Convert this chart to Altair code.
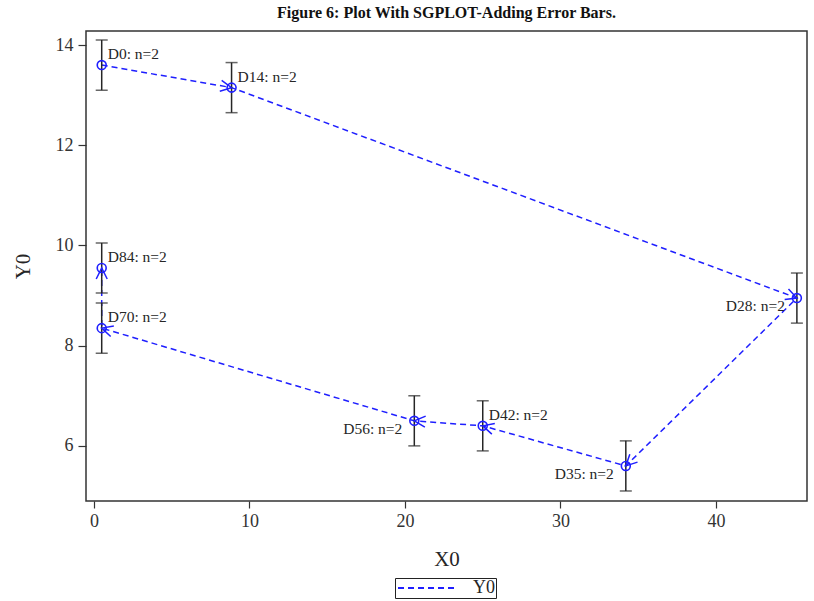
import math

import altair as alt
import pandas as pd

# Mean response per visit with +/- error limits, joined in visit order
labels = ["D0", "D14", "D28", "D35", "D42", "D56", "D70", "D84"]
x0 = [0.5, 8.85, 45.2, 34.2, 25.0, 20.6, 0.5, 0.5]
y0 = [13.6, 13.15, 8.95, 5.6, 6.4, 6.5, 8.35, 9.55]
y_lower = [13.1, 12.65, 8.45, 5.1, 5.9, 6.0, 7.85, 9.05]
y_upper = [14.1, 13.65, 9.45, 6.1, 6.9, 7.0, 8.85, 10.05]
n_obs = [2, 2, 2, 2, 2, 2, 2, 2]
left_labels = ["D28", "D35", "D56"]

x_ticks = [0, 10, 20, 30, 40]
y_ticks = [6, 8, 10, 12, 14]

W, H = 721, 470
X_DOM = [-0.51, 45.85]
Y_DOM = [4.9, 14.28]
SERIF = "Liberation Serif"
BLUE = "#1f1fff"
INK = "#262626"

# direction of each segment on screen, used to rotate its arrowhead
sx = W / (X_DOM[1] - X_DOM[0])
sy = H / (Y_DOM[1] - Y_DOM[0])
angles = [0.0]
for i in range(1, len(x0)):
    dx = (x0[i] - x0[i - 1]) * sx
    dy = -(y0[i] - y0[i - 1]) * sy
    angles.append(math.degrees(math.atan2(dy, dx)) % 360)

df = pd.DataFrame({
    "seq": list(range(len(labels))),
    "visit": labels,
    "x": x0,
    "y": y0,
    "lo": y_lower,
    "hi": y_upper,
    "txt": [f"{v}: n={n}" for v, n in zip(labels, n_obs)],
    "side": ["left" if v in left_labels else "right" for v in labels],
    "angle": angles,
    "series": ["Y0"] * len(labels),
})

xs = alt.Scale(domain=X_DOM, nice=False, zero=False)
ys = alt.Scale(domain=Y_DOM, nice=False, zero=False)
X = alt.X("x:Q", scale=xs, title="X0",
          axis=alt.Axis(values=x_ticks, tickSize=7, labelPadding=4, titlePadding=18))
Y_AXIS = alt.Axis(values=y_ticks, tickSize=8, labelPadding=5, titlePadding=22)


def yenc(field):
    return alt.Y(f"{field}:Q", scale=ys, title="Y0", axis=Y_AXIS)


base = alt.Chart(df)

line = base.mark_line(strokeDash=[6, 4], strokeWidth=1.5).encode(
    x=X,
    y=yenc("y"),
    order=alt.Order("seq:Q"),
    color=alt.Color(
        "series:N",
        scale=alt.Scale(range=[BLUE]),
        legend=alt.Legend(
            title=None, orient="none", legendX=309, legendY=547,
            strokeColor="#222", padding=1,
            symbolType="M-3.75,0L3.75,0", symbolSize=256, symbolOffset=23,
            symbolStrokeWidth=2, symbolDash=[6, 4],
            symbolStrokeColor="#6a6aff", symbolFillColor="transparent",
            labelOffset=36, labelFont=SERIF, labelFontSize=18, labelColor=INK,
        ),
    ),
)

bars = base.mark_rule(color=INK, strokeWidth=1.5).encode(
    x=X, y=yenc("lo"), y2="hi:Q"
)
cap_lo = base.mark_tick(orient="horizontal", size=12, thickness=1.5, color=INK).encode(
    x=X, y=yenc("lo")
)
cap_hi = base.mark_tick(orient="horizontal", size=12, thickness=1.5, color=INK).encode(
    x=X, y=yenc("hi")
)

circles = base.mark_point(shape="circle", filled=False, size=80, strokeWidth=1.6,
                          color=BLUE, opacity=1).encode(x=X, y=yenc("y"))

arrows = base.transform_filter("datum.seq > 0").mark_point(
    shape="M-1.1,-0.55L0,0L-1.1,0.55", filled=False, size=400,
    strokeWidth=1.5, color=BLUE, opacity=1,
).encode(x=X, y=yenc("y"), angle=alt.Angle("angle:Q", scale=None))

text_right = base.transform_filter("datum.side == 'right'").mark_text(
    align="left", dx=6, dy=-11, font=SERIF, fontSize=15.5, color=INK
).encode(x=X, y=yenc("y"), text="txt:N")

text_left = base.transform_filter("datum.side == 'left'").mark_text(
    align="right", dx=-12, dy=8, font=SERIF, fontSize=15.5, color=INK
).encode(x=X, y=yenc("y"), text="txt:N")

chart = (
    alt.layer(line, bars, cap_lo, cap_hi, circles, arrows, text_right, text_left)
    .properties(
        width=W,
        height=H,
        title=alt.Title("Figure 6: Plot With SGPLOT-Adding Error Bars.",
                        font=SERIF, fontSize=16, fontWeight="bold",
                        anchor="middle", offset=10, color="#111"),
        autosize=alt.AutoSizeParams(type="none"),
        padding={"left": 86, "top": 31, "right": 7, "bottom": 100},
    )
    .configure_view(stroke="#333", strokeWidth=1.5)
    .configure_axis(
        grid=False, domain=False, labelFont=SERIF, titleFont=SERIF,
        labelFontSize=18, titleFontSize=21, titleFontWeight="normal",
        tickColor="#333", tickWidth=1.2, labelColor="#333", titleColor=INK,
    )
)

chart.save("out.html", embed_options={"renderer": "svg", "actions": False})
